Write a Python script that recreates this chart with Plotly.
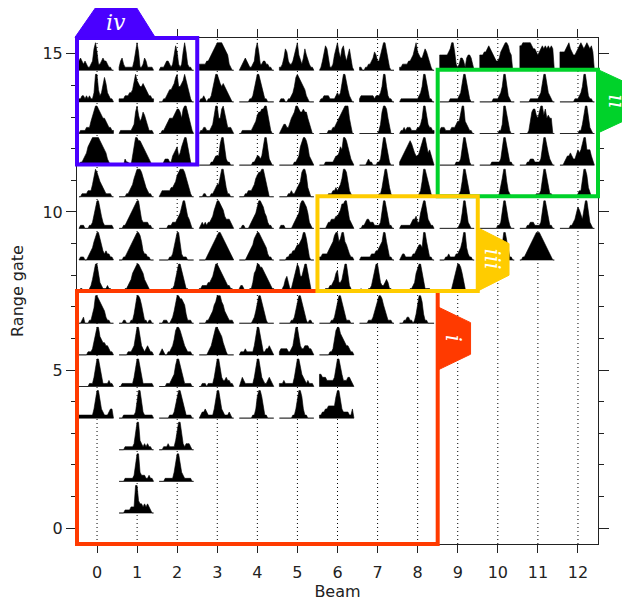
import plotly.graph_objects as go

# ---------------- data ----------------
beam_ticks = list(range(13))
gate_ticks = [0, 5, 10, 15]

# each spectrum: amplitude samples (0-9) across the cell, left to right
beams_g15 = list(range(13))
spectra_g15 = ["343232112379622343321100", "134211111137961124311110", "011123321258621269621100",
               "222223345678999987652100", "012343211237962233221100", "112476322358953247532110",
               "013687411257964785357410", "110011223465335799631000", "112222334579654467642100",
               "555555679962124431455420", "555667876543346789986500", "889999998776567878787870",
               "666678976556789878987860"]
beams_g14 = list(range(13))
spectra_g14 = ["112212121139942368632110", "111122233479765565432211", "000112344568955679742100",
               "011210112479976565432100", "000000011247997421100000", "011100112358987654210000",
               "011222211112323699642100", "122222222212223599521100", "011111111111123599631100",
               "000000011111123699631000", "000000000111123599621000", "000000011111123699632100",
               "000000000011123599621100"]
beams_g13 = list(range(13))
spectra_g13 = ["011112224689987655432211", "011111111237964576421110", "001123455567887589975210",
               "011221112369955897422210", "001111111234677889963100", "012332245679987787753100",
               "000000111223456789995200", "000000000000013799852000", "011212221111223599632211",
               "122211112223446994321100", "000000000000011399631000", "000000147886579968565500",
               "000000000000011369952100"]
beams_g12 = list(range(13))
spectra_g12 = ["011234678999998765421000", "000021100379988765432100", "000122211345634689964100",
               "000000001123337996211000", "000000000112332369952100", "000000000011236899863210",
               "000011111123346599863210", "000001211000112599631000", "123456787543346899645320",
               "000000000001112599631000", "000000001111112599631100", "000001122211112599642100",
               "000123343224545799555310"]
beams_g11 = list(range(13))
spectra_g11 = ["001111222479865432111100", "000001123468999865321100", "012222223345789998642100",
               "000110001123447995311000", "000011222346788997520000", "000000112112345899731000",
               "000000111223234699852100", "000000000000011369953100", "000000000000012599742100",
               "000000000000012599631000", "000000000000013699521000", "000000000001112599631100",
               "000000000000122599731000"]
beams_g10 = list(range(13))
spectra_g10 = ["011100011247996421111110", "000112345678996322221100", "000000111222345799643100",
               "012121223468998764333210", "001100012345799875421100", "011100000123458998752100",
               "000001223334456889963210", "001123322211112599631100", "011111112334225799632110",
               "000000000000012599521000", "000000000000112599531000", "000001122211112599631100",
               "000000011235764369962100"]
beams_g9 = list(range(12))
spectra_g9 = ["011100123468997432322110", "000112345678998632211000", "000000011247996211100000",
              "000001234567899876543210", "000001234578998765421100", "000001122334556799731000",
              "112222345689967996532110", "011111112223345699631100", "012211111223455499631100",
              "000011211112234699421100", "000000000000012599631100", "001123456789998765432100"]
beams_g8 = list(range(10))
spectra_g8 = ["011000012469963211121100", "000011234678998764321000", "000000001124799742110000",
              "112222334579987654322110", "122100011367998876543211", "001245311368985579963100",
              "000011122346733469952100", "010000112469963223431100", "000000011236899631111000",
              "000000001368998631000000"]
beams_g7 = list(range(9))
spectra_g7 = ["001200011359987654211000", "000110001136998631101100", "000111001247998876311100",
              "000001123467999764321110", "000000000124799742100000", "000000001124799742101100",
              "000000001124799742111000", "000000111246899864211100", "000112211013799731100000"]
beams_g6 = list(range(7))
spectra_g6 = ["000000111247996544332110", "000000111236996321232110", "012100112358998653211100",
              "000000123579987642100000", "011121111136996311223210", "122222112369963223332210",
              "000000011258997654332110"]
beams_g5 = list(range(7))
spectra_g5 = ["000000011136996311112110", "001111111136996311111110", "000001112347997421111100",
              "001110111136996322322110", "023211111136996321123210", "111211111136996432121110",
              "443332222237996422233210"]
beams_g4 = list(range(7))
spectra_g4 = ["111111111136996321112331", "000111111112699621111110", "000000011124799742111100",
              "012232111136996321112100", "000000000113799731100000", "000000000113799731100000",
              "112233444447996322221130"]
beams_g3 = [1, 2]
spectra_g3 = ["000011111125993212121100", "000111211113699621222100"]
beams_g2 = [1, 2]
spectra_g2 = ["000011111125993222112110", "000011111136996321111100"]
beams_g1 = [1]
spectra_g1 = ["000011112229943323232100"]

rows = [
    (15, beams_g15, spectra_g15), (14, beams_g14, spectra_g14), (13, beams_g13, spectra_g13),
    (12, beams_g12, spectra_g12), (11, beams_g11, spectra_g11), (10, beams_g10, spectra_g10),
    (9, beams_g9, spectra_g9), (8, beams_g8, spectra_g8), (7, beams_g7, spectra_g7),
    (6, beams_g6, spectra_g6), (5, beams_g5, spectra_g5), (4, beams_g4, spectra_g4),
    (3, beams_g3, spectra_g3), (2, beams_g2, spectra_g2), (1, beams_g1, spectra_g1),
]

# regions: (label, color, x0, x1, y0, y1)
region_labels = ["i", "ii", "iii", "iv"]
region_colors = ["#ff3a00", "#00d22a", "#ffcc00", "#4a00ff"]
region_x0 = [-0.5, 8.5, 5.5, -0.5]
region_x1 = [8.5, 12.5, 9.5, 2.5]
region_y0 = [-0.5, 10.5, 7.5, 11.5]
region_y1 = [7.5, 14.5, 10.5, 15.5]

# ---------------- geometry ----------------
XMIN, XMAX = -0.5, 12.5
YMIN, YMAX = -0.5, 15.5
CELL_LEFT, CELL_W = -0.45, 0.86
BASE_OFF, AMP_H = -0.52, 0.87

def px(x):
    return (x - XMIN) / (XMAX - XMIN)

def py(y):
    return (y - YMIN) / (YMAX - YMIN)

fig = go.Figure()

# dotted beam lines
dx, dy = [], []
for b in beam_ticks:
    dx += [b, b, None]
    dy += [YMIN, YMAX, None]
fig.add_trace(go.Scatter(x=dx, y=dy, mode="lines", hoverinfo="skip",
                         line=dict(color="black", width=1, dash="1px,3px"), showlegend=False))

# spectra polygons
sx, sy = [], []
for gate, beams, spectra in rows:
    base = gate + BASE_OFF
    for b, s in zip(beams, spectra):
        n = len(s)
        xs = [b + CELL_LEFT + CELL_W * i / (n - 1) for i in range(n)]
        ys = [base + int(c) / 9.0 * AMP_H for c in s]
        sx += [xs[0]] + xs + [xs[-1], xs[0], None]
        sy += [base] + ys + [base, base, None]
fig.add_trace(go.Scatter(x=sx, y=sy, mode="lines", fill="toself", fillcolor="black",
                         line=dict(color="black", width=0.6), hoverinfo="skip", showlegend=False))

# region boxes
shapes = []
for lab, col, x0, x1, y0, y1 in zip(region_labels, region_colors, region_x0, region_x1, region_y0, region_y1):
    shapes.append(dict(type="rect", xref="paper", yref="paper",
                       x0=px(x0), x1=px(x1), y0=py(y0), y1=py(y1),
                       line=dict(color=col, width=4), fillcolor="rgba(0,0,0,0)", layer="above"))

def poly(pts, col):
    path = "M " + " L ".join(f"{px(a):.5f},{py(b):.5f}" for a, b in pts) + " Z"
    return dict(type="path", xref="paper", yref="paper", path=path,
                fillcolor=col, line=dict(color=col, width=1), layer="above")

# tabs
shapes.append(poly([(8.5, 7.0), (9.32, 6.5), (9.32, 5.5), (8.5, 5.0)], region_colors[0]))
shapes.append(poly([(12.5, 14.5), (13.35, 14.0), (13.35, 13.0), (12.5, 12.5)], region_colors[1]))
shapes.append(poly([(9.5, 9.5), (10.28, 9.0), (10.28, 8.0), (9.5, 7.5)], region_colors[2]))
shapes.append(poly([(-0.55, 15.52), (-0.03, 16.47), (0.98, 16.47), (1.45, 15.52)], region_colors[3]))

annotations = [
    dict(x=px(8.9), y=py(6.0), text="<i>i</i>", textangle=90),
    dict(x=px(12.97), y=py(13.5), text="<i>ii</i>", textangle=90),
    dict(x=px(9.88), y=py(8.5), text="<i>iii</i>", textangle=90),
    dict(x=px(0.47), y=py(16.0), text="<i>iv</i>", textangle=0),
]
for a in annotations:
    a.update(xref="paper", yref="paper", showarrow=False, xanchor="center", yanchor="middle",
             font=dict(family="DejaVu Serif", size=22, color="white"))

axis_font = dict(family="DejaVu Sans", size=16, color="#222")
fig.update_layout(
    width=630, height=603,
    margin=dict(l=69, r=40, t=30, b=67),
    paper_bgcolor="white", plot_bgcolor="white",
    shapes=shapes, annotations=annotations,
    xaxis=dict(range=[XMIN, XMAX], tickvals=beam_ticks, ticks="outside", ticklen=8,
               tickcolor="#222", showline=True, linecolor="#222", linewidth=1, mirror="allticks",
               showgrid=False, zeroline=False, tickfont=axis_font, ticklabelstandoff=6,
               automargin=False,
               title=dict(text="Beam", font=axis_font, standoff=4)),
    yaxis=dict(range=[YMIN, YMAX], tickvals=gate_ticks, ticks="outside", ticklen=10,
               tickcolor="#222", showline=True, linecolor="#222", linewidth=1, mirror="allticks",
               showgrid=False, zeroline=False, tickfont=axis_font, automargin=False,
               minor=dict(dtick=1, ticks="outside", ticklen=5, tickcolor="#222", showgrid=False),
               title=dict(text="Range gate", font=axis_font, standoff=14)),
)

fig.write_html("out.html")
